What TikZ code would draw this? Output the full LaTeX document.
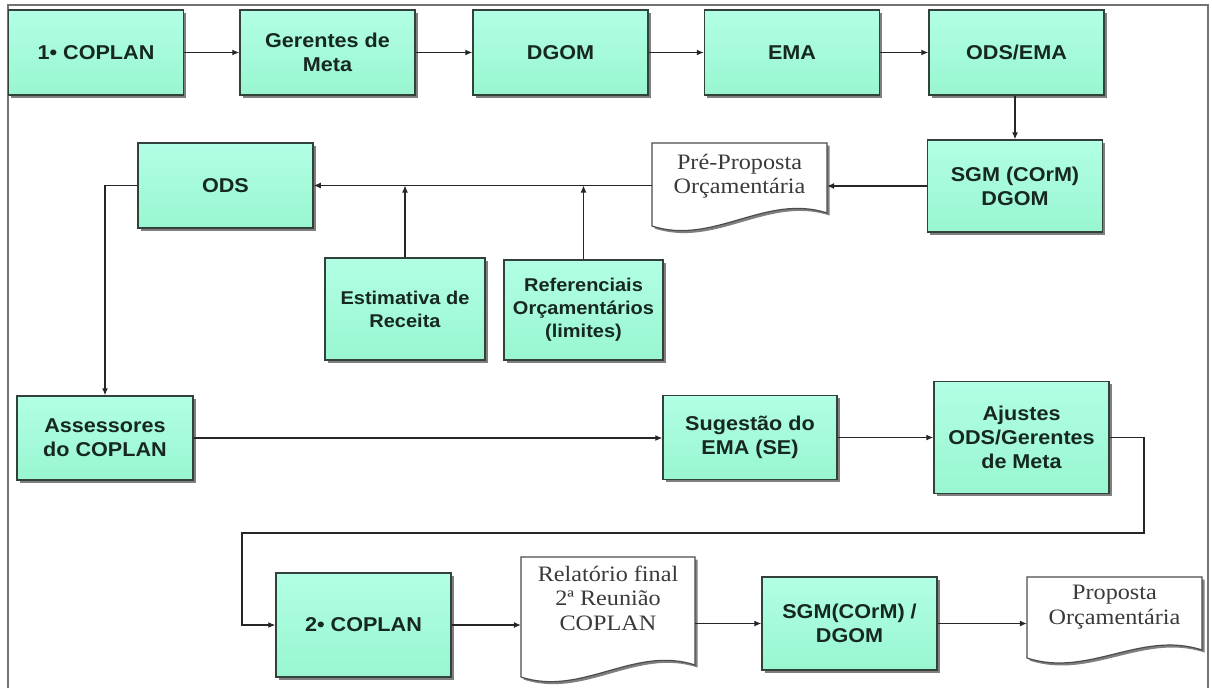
\documentclass[tikz,border=0pt]{standalone}
\usepackage{fontspec}
\newfontfamily\boxfam{Liberation Sans}[FakeStretch=1.08]
\newfontfamily\docfam{Liberation Serif}[FakeStretch=1.1]
\usetikzlibrary{arrows.meta,shadows,calc}
\definecolor{boxfill}{RGB}{152,246,208}
\definecolor{boxtop}{RGB}{178,255,228}
\definecolor{boxline}{RGB}{50,66,58}
\definecolor{boxtext}{RGB}{22,40,32}
\definecolor{doctextcol}{RGB}{58,58,58}
\definecolor{framecol}{RGB}{115,115,115}
\tikzset{
  procbox/.style={rectangle, draw=boxline, line width=1.5pt, top color=boxtop, bottom color=boxfill,
    drop shadow={shadow xshift=2.5pt, shadow yshift=-2.5pt, fill=black, opacity=0.5},
    text=boxtext, font=\boxfam\bfseries\fontsize{20}{24}\selectfont, align=center,
    inner sep=0pt, minimum width=175pt, minimum height=85pt},
  smallbox/.style={procbox, font=\boxfam\bfseries\fontsize{18.5}{23}\selectfont},
  docanchor/.style={rectangle, draw=none, inner sep=0pt},
  docline/.style={draw=black!70, fill=white, line width=1.2pt,
    drop shadow={shadow xshift=2.5pt, shadow yshift=-2.5pt, fill=black, opacity=0.5}},
  doctext/.style={text=doctextcol, font=\docfam\fontsize{22}{24.5}\selectfont, align=center, inner sep=0pt},
  conn/.style={draw=black!85, line width=1.1pt, -{Latex[length=7pt,width=6pt]}},
  framel/.style={draw=framecol, line width=1.4pt}
}
% #1 left x, #2 right x, #3 top y, #4 left bottom y, #5 right bottom y
\newcommand{\docshape}[5]{%
  \path[docline] (#1,#3) -- (#2,#3) -- (#2,#5)
    .. controls ({#2-0.35*(#2-#1)},{#5-20}) and ({#1+0.35*(#2-#1)},{#4+20}) .. (#1,#4) -- cycle;}
\begin{document}
\begin{tikzpicture}[x=1pt,y=-1pt]
\useasboundingbox (0,0) rectangle (1212,688);
\draw[framel] (8,688) -- (8,5) -- (1208,5) -- (1208,688);

% top row
\node[procbox] (cop1) at (96,52.5) {1• COPLAN};
\node[procbox] (ger) at (327.5,52.5) {Gerentes de\\Meta};
\node[procbox] (dgom) at (560.5,52.5) {DGOM};
\node[procbox] (ema) at (792,52.5) {EMA};
\node[procbox] (odsema) at (1016.5,52.5) {ODS/EMA};

% second row
\node[procbox, minimum height=92pt] (sgm1) at (1015,186) {SGM (COrM)\\DGOM};
\docshape{652}{827}{143}{226}{213}
\node[docanchor, minimum width=175pt, minimum height=85pt] (pre) at (739.5,185.5) {};
\node[doctext] (pret) at (739.5,176) {Pré-Proposta\\Orçamentária};
\node[procbox] (ods) at (225.5,185.5) {ODS};

\node[smallbox, minimum width=160pt, minimum height=102pt] (est) at (405,309) {Estimativa de\\Receita};
\node[smallbox, minimum width=159pt, minimum height=100pt] (ref) at (583.5,310) {Referenciais\\Orçamentários\\(limites)};

% third row
\node[procbox, minimum width=176pt, minimum height=84pt] (ass) at (105,438) {Assessores\\do COPLAN};
\node[procbox, minimum width=174pt, minimum height=84pt] (sug) at (750,437.5) {Sugestão do\\EMA (SE)};
\node[procbox, minimum height=112pt] (aju) at (1021.5,437.5) {Ajustes\\ODS/Gerentes\\de Meta};

% bottom row
\node[procbox, minimum height=104pt] (cop2) at (363.5,625) {2• COPLAN};
\docshape{521}{695}{557}{677}{665}
\node[docanchor, minimum width=174pt, minimum height=114pt] (rel) at (608,614) {};
\node[doctext] (relt) at (608,598) {Relatório final\\2ª Reunião\\COPLAN};
\node[procbox, minimum height=93pt] (sgm2) at (849.5,623.5) {SGM(COrM) /\\DGOM};
\docshape{1027}{1202}{577}{658}{650}
\node[docanchor, minimum width=175pt, minimum height=78pt] (prop) at (1114.5,616) {};
\node[doctext] (propt) at (1114.5,607) {Proposta\\Orçamentária};

% connectors
\coordinate (c1) at (1144,533);
\coordinate (c2) at (242,533);
\draw[conn] (cop1) -- (ger);
\draw[conn] (ger) -- (dgom);
\draw[conn] (dgom) -- (ema);
\draw[conn] (ema) -- (odsema);
\draw[conn] (odsema.south -| sgm1.north) -- (sgm1.north);
\draw[conn] (sgm1.west) -- (sgm1.west -| pre.east);
\draw[conn] (pre.west) -- (ods.east);
\draw[conn] (est.north) -- (est.north |- pre.west);
\draw[conn] (ref.north) -- (ref.north |- pre.west);
\draw[conn] (ods.west) -| (ass.north);
\draw[conn] (ass.east) -- (ass.east -| sug.west);
\draw[conn] (sug.east) -- (sug.east -| aju.west);
\draw[conn] (aju.east) -| (c1) -- (c2) |- (cop2.west);
\draw[conn] (cop2.east) -- (cop2.east -| rel.west);
\draw[conn] (sgm2.west -| rel.east) -- (sgm2.west);
\draw[conn] (sgm2.east) -- (sgm2.east -| prop.west);
\end{tikzpicture}
\end{document}
